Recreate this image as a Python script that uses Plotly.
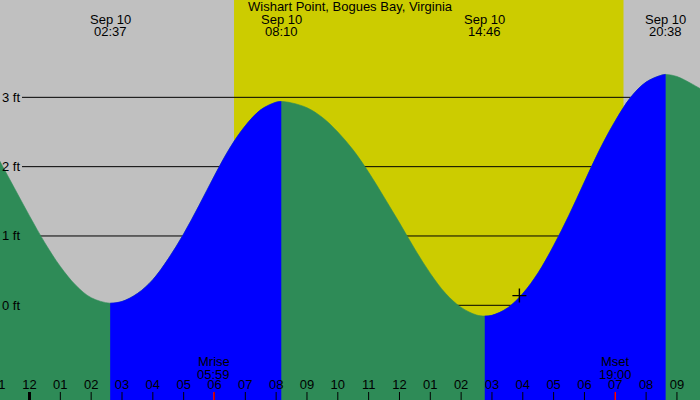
import plotly.graph_objects as go

# ---------------- data ----------------
station = "Wishart Point, Bogues Bay, Virginia"

extreme_dates = ["Sep 10", "Sep 10", "Sep 10", "Sep 10"]
extreme_times = ["02:37", "08:10", "14:46", "20:38"]
extreme_ft = [0.03, 2.94, -0.155, 3.33]

# tide height (hours after midnight Sep 10, feet)
tide_hours = [-1.0, -0.5, 0.0, 0.5, 1.0, 1.5, 2.0,
              3.0, 3.5, 4.0, 4.5, 5.0, 5.5, 6.0, 6.5, 7.0, 7.5, 8.0,
              8.5, 9.0, 9.5, 10.0, 10.5, 11.0, 11.5, 12.0, 12.5, 13.0, 13.5, 14.0, 14.5,
              15.0, 15.5, 16.0, 16.5, 17.0, 17.5, 18.0, 18.5, 19.0, 19.5, 20.0, 20.5,
              21.0, 21.5, 22.0]
tide_ft = [2.11, 1.70, 1.29, 0.90, 0.56, 0.29, 0.11,
           0.055, 0.17, 0.37, 0.67, 1.03, 1.44, 1.87, 2.27, 2.59, 2.82, 2.93,
           2.92, 2.85, 2.71, 2.50, 2.24, 1.92, 1.56, 1.19, 0.81, 0.46, 0.17, -0.03, -0.14,
           -0.145, -0.04, 0.17, 0.47, 0.86, 1.30, 1.78, 2.25, 2.66, 3.00, 3.22, 3.32,
           3.30, 3.19, 3.06]

sunrise = "06:38"
sunset = "19:16"

moon_labels = ["Mrise", "Mset"]
moon_times = ["05:59", "19:00"]

hour_ticks = list(range(-1, 22))
hour_labels = ["11", "12", "01", "02", "03", "04", "05", "06", "07", "08", "09", "10", "11",
               "12", "01", "02", "03", "04", "05", "06", "07", "08", "09"]

level_ft = [0, 1, 2, 3]
level_labels = ["0 ft", "1 ft", "2 ft", "3 ft"]

now_hour = 15.89
now_ft = 0.14

# ---------------- styling / layout constants ----------------
W, H = 700, 400
X_RANGE = [-0.957, 21.748]
Y_RANGE = [-1.366, 4.404]
FLOOR = -3.0
GREEN = "#2E8B57"
BLUE = "#0000FF"
YELLOW = "#CCCC00"
GRAY = "#C0C0C0"
FONT = "Liberation Sans, Arial, sans-serif"
FS = 13


def hm(s):
    h, m = s.split(":")
    return int(h) + int(m) / 60.0


def py(px):
    """pixel-from-top -> paper fraction"""
    return 1 - px / H


ext_hours = [hm(t) for t in extreme_times]
pts = sorted(list(zip(tide_hours, tide_ft)) + list(zip(ext_hours, extreme_ft)))
all_x = [p[0] for p in pts]
all_y = [p[1] for p in pts]

fig = go.Figure()

# whole tide curve (falling colour) underneath
fig.add_trace(go.Scatter(x=[all_x[0], all_x[-1]], y=[FLOOR, FLOOR], mode="lines",
                         line=dict(width=0), hoverinfo="skip", showlegend=False))
fig.add_trace(go.Scatter(x=all_x, y=all_y, mode="lines",
                         line=dict(width=0.6, color=GREEN, shape="spline"),
                         fill="tonexty", fillcolor=GREEN, hoverinfo="skip", showlegend=False))

# rising stretches on top
bounds = [all_x[0]] + ext_hours + [all_x[-1]]
for a, b in zip(bounds[:-1], bounds[1:]):
    seg = [p for p in pts if a - 1e-9 <= p[0] <= b + 1e-9]
    xs = [p[0] for p in seg]
    ys = [p[1] for p in seg]
    if ys[-1] <= ys[0]:
        continue
    fig.add_trace(go.Scatter(x=[xs[0], xs[-1]], y=[FLOOR, FLOOR], mode="lines",
                             line=dict(width=0), hoverinfo="skip", showlegend=False))
    fig.add_trace(go.Scatter(x=xs, y=ys, mode="lines", line=dict(width=0.6, color=BLUE, shape="spline"),
                             fill="tonexty", fillcolor=BLUE, hoverinfo="skip", showlegend=False))

# current-time marker
fig.add_trace(go.Scatter(x=[now_hour], y=[now_ft], mode="markers",
                         marker=dict(symbol="cross-thin", size=10, line=dict(color="black", width=1.4)),
                         showlegend=False, hoverinfo="skip"))

# hour labels along the bottom (on a 0..1 helper axis)
fig.add_trace(go.Scatter(x=hour_ticks, y=[py(385.5)] * len(hour_ticks), yaxis="y2",
                         mode="text", text=hour_labels, textposition="middle center",
                         textfont=dict(family=FONT, size=FS, color="black"),
                         showlegend=False, hoverinfo="skip"))

shapes = []
# daylight
shapes.append(dict(type="rect", xref="x", yref="paper", x0=hm(sunrise), x1=hm(sunset), y0=0, y1=1,
                   fillcolor=YELLOW, line=dict(width=0), layer="below"))
# level lines
for lv in level_ft:
    shapes.append(dict(type="line", xref="paper", yref="y", x0=22 / W, x1=1, y0=lv, y1=lv,
                       line=dict(color="black", width=1), layer="below"))
# hour ticks
for h in hour_ticks:
    w = 3 if h == 0 else 1
    shapes.append(dict(type="line", xref="x", yref="paper", x0=h, x1=h, y0=0, y1=8 / H,
                       line=dict(color="black", width=w), layer="above"))
for t in moon_times:
    shapes.append(dict(type="line", xref="x", yref="paper", x0=hm(t), x1=hm(t), y0=0, y1=8 / H,
                       line=dict(color="red", width=1.5), layer="above"))

annotations = []
txt = dict(family=FONT, size=FS, color="black")
annotations.append(dict(text=station, xref="paper", yref="paper", x=0.5, y=py(7),
                        xanchor="center", yanchor="middle", showarrow=False, font=txt))
for d, t in zip(extreme_dates, extreme_times):
    annotations.append(dict(text=d, xref="x", yref="paper", x=hm(t), y=py(19.5),
                            xanchor="center", yanchor="middle", showarrow=False, font=txt))
    annotations.append(dict(text=t, xref="x", yref="paper", x=hm(t), y=py(31.5),
                            xanchor="center", yanchor="middle", showarrow=False, font=txt))
for lab, t in zip(moon_labels, moon_times):
    annotations.append(dict(text=lab, xref="x", yref="paper", x=hm(t), y=py(361.5),
                            xanchor="center", yanchor="middle", showarrow=False, font=txt))
    annotations.append(dict(text=t, xref="x", yref="paper", x=hm(t), y=py(374),
                            xanchor="center", yanchor="middle", showarrow=False, font=txt))
for lv, lab in zip(level_ft, level_labels):
    annotations.append(dict(text=lab, xref="paper", yref="y", x=0, y=lv,
                            xanchor="left", yanchor="middle", showarrow=False, font=txt))

fig.update_layout(
    width=W, height=H,
    margin=dict(l=0, r=0, t=0, b=0),
    paper_bgcolor=GRAY, plot_bgcolor=GRAY,
    showlegend=False,
    xaxis=dict(range=X_RANGE, visible=False, fixedrange=True),
    yaxis=dict(range=Y_RANGE, visible=False, fixedrange=True),
    yaxis2=dict(range=[0, 1], overlaying="y", visible=False, fixedrange=True),
    shapes=shapes,
    annotations=annotations,
    font=dict(family=FONT, size=FS, color="black"),
)

fig.write_html("out.html", config={"displayModeBar": False},
               post_script="document.body.style.margin='0';document.body.style.overflow='hidden';")
